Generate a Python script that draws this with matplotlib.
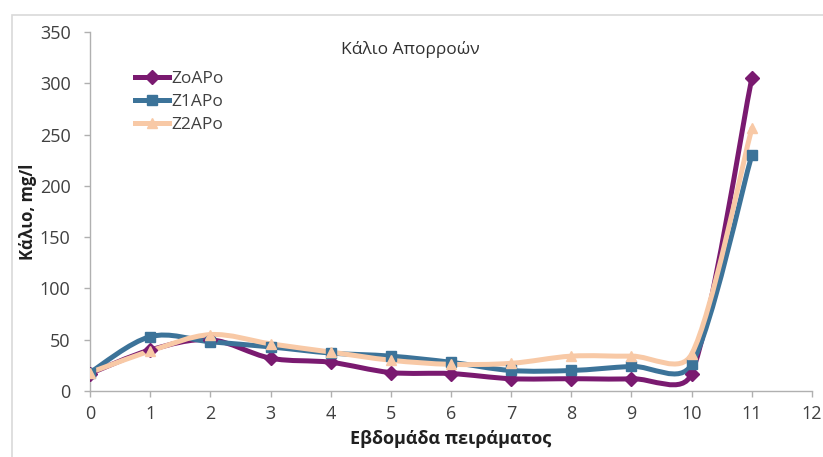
import numpy as np
import matplotlib.pyplot as plt
from matplotlib.path import Path
from matplotlib.patches import PathPatch, Rectangle
from matplotlib.lines import Line2D

plt.rcParams['font.family'] = ['Open Sans', 'DejaVu Sans']

# weekly potassium in runoff, mg/l
weeks = [0, 1, 2, 3, 4, 5, 6, 7, 8, 9, 10, 11]
zo_apo = [17, 40, 50, 32, 28, 18, 17, 12, 12, 12, 17, 305]
z1_apo = [18, 53, 48, 43, 37, 34, 28, 20, 20, 24, 26, 230]
z2_apo = [18, 39, 55, 46, 38, 30, 26, 27, 34, 34, 36, 256]

series = [
    ('ZoAPo', zo_apo, '#7a1a70', 'D'),
    ('Z1APo', z1_apo, '#3c7399', 's'),
    ('Z2APo', z2_apo, '#f8c9a6', '^'),
]

fig = plt.figure(figsize=(8.23, 4.57), dpi=100)
ax = fig.add_axes([0.1094, 0.1444, 0.8772, 0.7856])
ax.set_xlim(0, 12)
ax.set_ylim(0, 350)

# light chart-area frame
fig.patches.append(Rectangle((12 / 823, -0.01), 1.0, 1 - 15 / 457 + 0.01,
                             transform=fig.transFigure, fill=False,
                             edgecolor='#d9d9d9', linewidth=1.2))


def smooth_path(xs, ys):
    # cubic bezier through the points, done in screen space so the
    # tangents behave like a spreadsheet "smoothed line"
    pts = ax.transData.transform(np.column_stack([xs, ys]))
    n = len(pts)
    verts = [pts[0]]
    codes = [Path.MOVETO]
    for i in range(n - 1):
        p0, p1 = pts[i], pts[i + 1]
        prev = pts[i - 1] if i > 0 else p0
        nxt = pts[i + 2] if i + 2 < n else p1
        seg = np.hypot(*(p1 - p0))
        d1 = (p1 - prev) / 6
        d2 = (nxt - p0) / 6
        cap = 0.4 * seg
        if np.hypot(*d1) > cap:
            d1 = d1 * cap / np.hypot(*d1)
        if np.hypot(*d2) > cap:
            d2 = d2 * cap / np.hypot(*d2)
        verts += [p0 + d1, p1 - d2, p1]
        codes += [Path.CURVE4] * 3
    data = ax.transData.inverted().transform(np.array(verts))
    return Path(data, codes)


handles = []
for name, vals, col, mk in series:
    ax.add_patch(PathPatch(smooth_path(weeks, vals), fill=False,
                           edgecolor=col, linewidth=3.6, capstyle='round',
                           joinstyle='round', zorder=3))
    ax.plot(weeks, vals, linestyle='none', marker=mk, markersize=7.5,
            color=col, zorder=4)
    handles.append(Line2D([], [], color=col, linewidth=3.6, marker=mk,
                          markersize=7.5, label=name))

for side in ('top', 'right'):
    ax.spines[side].set_visible(False)
for side in ('left', 'bottom'):
    ax.spines[side].set_color('#b0b0b0')
    ax.spines[side].set_linewidth(1.0)

ax.set_xticks(range(0, 13))
ax.set_yticks(range(0, 351, 50))
ax.tick_params(colors='#b0b0b0', labelcolor='#404040', labelsize=13,
               length=4, width=1)
ax.tick_params(axis='x', pad=6)
ax.tick_params(axis='y', pad=10)

ax.set_xlabel('Εβδομάδα πειράματος', fontsize=13, fontweight='bold',
              color='#202020', labelpad=5)
ax.set_ylabel('Κάλιο, mg/l', fontsize=12, fontweight='bold',
              color='#202020', labelpad=2)

ax.text(0.443, 0.95, 'Κάλιο Απορροών', transform=ax.transAxes,
        ha='center', va='center', fontsize=12.5, color='#303030')

ax.legend(handles=handles, loc='upper left', bbox_to_anchor=(0.04, 0.935),
          frameon=False, fontsize=12.5, handlelength=2.0, handletextpad=0.1,
          labelspacing=0.4, labelcolor='#404040')

fig.savefig('out.png', dpi=100)
